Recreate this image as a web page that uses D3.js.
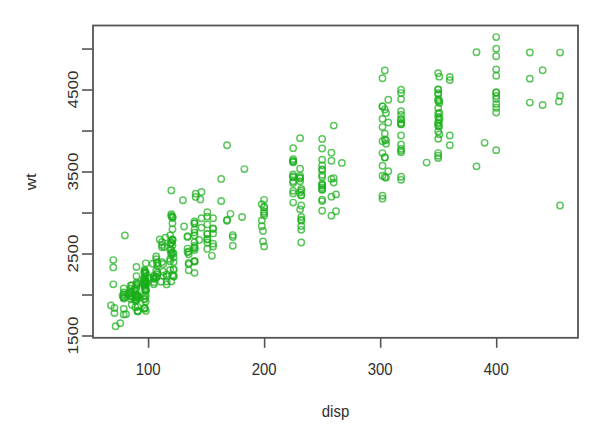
<!DOCTYPE html>
<html>
<head>
<meta charset="utf-8">
<script src="https://cdn.jsdelivr.net/npm/d3@7"></script>
<style>
  body { margin: 0; background: #fff; }
  text { font-family: "Liberation Sans", Arial, sans-serif; fill: #2e2e2e; }
</style>
</head>
<body>
<div id="plot"></div>
<script>
//DATA (disp, wt), one row per model year
let disp = [
  307,350,318,304,302,429,454,440,455,390,383,340,400,455,113,198,199,200,97,97,110,107,104,121,199,360,307,318,304,
  97,140,113,232,225,250,250,232,350,400,351,318,383,400,400,258,140,250,250,122,116,79,88,71,72,97,91,
  113,97.5,97,140,122,350,400,318,351,304,429,350,350,400,70,304,307,302,318,121,121,120,96,122,97,120,98,97,
  350,304,350,302,318,429,400,351,318,440,455,360,225,250,232,250,198,97,400,400,360,350,232,97,140,108,70,122,155,98,350,400,68,116,114,121,318,121,156,350,
  198,232,250,79,122,71,140,250,258,225,302,350,318,302,304,98,79,97,76,83,90,90,116,120,108,79,
  225,250,250,250,400,350,318,351,231,250,258,225,231,262,302,97,140,232,140,134,90,119,171,90,232,115,120,121,121,91,
  107,116,140,98,101,305,318,304,351,225,250,200,232,85,98,90,91,225,250,250,258,97,85,97,140,130,318,120,156,168,350,350,302,318,
  98,111,79,122,85,305,260,318,302,250,231,225,250,400,350,400,351,97,151,97,140,98,98,97,97,146,121,80,
  90,98,78,85,91,260,318,302,231,200,200,140,225,232,231,200,225,258,305,231,302,318,98,134,119,105,134,156,151,119,131,163,121,163,89,98,
  231,200,140,232,225,305,302,351,318,350,351,267,360,89,86,98,121,183,350,141,260,105,105,85,91,151,173,173,151,
  90,89,98,85,151,140,151,225,97,134,120,119,108,86,156,85,90,90,121,146,91,97,89,168,70,122,107,
  135,151,156,173,135,79,86,81,97,85,89,91,105,98,98,105,107,108,119,120,141,145,168,146,231,350,200,225,
  112,112,112,112,135,151,140,98,79,79,105,98,120,107,108,91,91,91,181,262,156,232,144,135,151,140,97,135,120,119
];
let wt = [
  3504,3693,3436,3433,3449,4341,4354,4312,4425,3850,3563,3609,3761,3086,2372,2833,2774,2587,2130,1835,2672,2430,2375,2234,2648,4615,4376,4382,4732,
  2130,2264,2228,2634,3439,3329,3302,3288,4209,4464,4154,4096,4955,4746,5140,2962,2408,3282,3139,2220,2123,2074,2065,1773,1613,1834,1955,
  2278,2126,2254,2408,2226,4274,4385,4135,4129,3672,4633,4502,4456,4422,2330,3892,4098,4294,4077,2933,2511,2979,2189,2395,2288,2506,2164,2100,
  4100,3672,3988,4042,3777,4952,4464,4363,4237,4735,4951,3821,3121,3278,2945,3021,2904,1950,4997,4906,4654,4499,2789,2279,2401,2379,2124,2310,2472,2265,4082,4278,1867,2158,2582,2868,3399,2660,2807,3664,
  3102,2901,3336,1950,2451,1836,2542,3781,3632,3613,4141,4699,4457,4638,4257,2219,1963,2300,1649,2003,2125,2108,2246,2489,2391,2000,
  3264,3459,3432,3158,4668,4440,4498,4657,3907,3897,3730,3785,3039,3221,3169,2171,2639,2914,2592,2702,2223,2545,2984,1937,3211,2694,2957,2945,2671,1795,
  2464,2220,2572,2255,2202,4215,4190,3962,4215,3233,3353,3012,3085,2035,2164,1937,1795,3651,3574,3645,3193,1825,1990,2155,2565,3150,3940,3270,2930,3820,4380,4055,3870,3755,
  2045,2155,1825,2300,1945,3880,4060,4140,4295,3520,3425,3630,3525,4220,4165,4325,4335,1940,2740,2265,2755,2051,2075,1985,2190,2815,2600,2720,
  1985,1800,1985,2070,1800,3365,3735,3570,3535,3155,2965,2720,3430,3210,3380,3070,3620,3410,3425,3445,3205,4080,2155,2560,2300,2230,2515,2745,2855,2405,2830,3140,2795,3410,1990,2135,
  3245,2990,2890,3265,3360,3840,3725,3955,3830,4360,4054,3605,3940,1925,1975,1915,2670,3530,3900,3190,3420,2200,2150,2020,2130,2670,2595,2700,2556,
  2144,1968,2120,2019,2678,2870,3003,3381,2188,2711,2542,2434,2265,2110,2800,2110,2085,2335,2950,3250,1850,2145,1845,2910,2420,2500,2290,
  2490,2635,2620,2725,2385,1755,1875,1760,2065,1975,2050,1985,2215,2045,2380,2190,2210,2350,2615,2635,3230,3160,2900,2930,3415,3725,3060,3465,
  2605,2640,2395,2575,2525,2735,2865,1980,2025,1970,2125,2125,2160,2205,2245,1965,1965,1995,2945,3015,2585,2835,2665,2370,2950,2790,2130,2295,2625,2720
];
let xTicks = [100, 200, 300, 400];
let yTicks = [1500, 2000, 2500, 3000, 3500, 4000, 4500, 5000];
let yLabels = [1500, 2500, 3500, 4500];

let w = 606;
let h = 436;
let plotLeft = 93, plotRight = 578, plotTop = 25.5, plotBottom = 337.8;

let points = disp.map(function(d, i) { return {disp: d, wt: wt[i]}; });

//SCALES (R style: data range padded by 4% each side)
let xExt = d3.extent(disp), yExt = d3.extent(wt);
let xPad = (xExt[1] - xExt[0]) * 0.04;
let yPad = (yExt[1] - yExt[0]) * 0.04;

let xScale = d3.scaleLinear()
    .domain([xExt[0] - xPad, xExt[1] + xPad])
    .range([plotLeft, plotRight]);

let yScale = d3.scaleLinear()
    .domain([yExt[0] - yPad, yExt[1] + yPad])
    .range([plotBottom, plotTop]);

let svg = d3.select("#plot").append("svg")
    .attr("width", w)
    .attr("height", h);

//POINTS
svg.append("g")
    .selectAll("circle")
    .data(points)
    .enter()
    .append("circle")
    .attr("cx", function(d) { return xScale(d.disp); })
    .attr("cy", function(d) { return yScale(d.wt); })
    .attr("r", 3.2)
    .attr("fill", "none")
    .attr("stroke", "#1aae1a")
    .attr("stroke-opacity", 0.72)
    .attr("stroke-width", 1.45);

//AXES
let xAxis = d3.axisBottom(xScale).tickValues(xTicks).tickSize(10).tickFormat("");
let yAxis = d3.axisLeft(yScale).tickValues(yTicks).tickSize(11).tickFormat("");

svg.append("g")
    .attr("transform", "translate(0," + plotBottom + ")")
    .call(xAxis);

svg.append("g")
    .attr("transform", "translate(" + plotLeft + ",0)")
    .call(yAxis);

svg.selectAll(".domain").remove();
svg.selectAll(".tick line").attr("stroke", "#555").attr("stroke-width", 1.6);

//tick labels drawn by hand, squeezed a little like the original screenshot
svg.append("g")
    .selectAll("text")
    .data(xTicks)
    .enter()
    .append("text")
    .attr("transform", function(d) { return "translate(" + xScale(d) + ",375) scale(0.88,1)"; })
    .attr("text-anchor", "middle")
    .attr("font-size", 17)
    .text(function(d) { return d; });

svg.append("g")
    .selectAll("text")
    .data(yLabels)
    .enter()
    .append("text")
    .attr("transform", function(d) { return "translate(78," + yScale(d) + ") rotate(-90) scale(1,0.88)"; })
    .attr("text-anchor", "middle")
    .attr("font-size", 17)
    .text(function(d) { return d; });

//BOX
svg.append("rect")
    .attr("x", plotLeft)
    .attr("y", plotTop)
    .attr("width", plotRight - plotLeft)
    .attr("height", plotBottom - plotTop)
    .attr("fill", "none")
    .attr("stroke", "#555")
    .attr("stroke-width", 1.8);

//AXIS TITLES
svg.append("text")
    .attr("transform", "translate(" + ((plotLeft + plotRight) / 2) + ",417) scale(0.88,1)")
    .attr("text-anchor", "middle")
    .attr("font-size", 17)
    .text("disp");

svg.append("text")
    .attr("transform", "translate(36," + ((plotTop + plotBottom) / 2) + ") rotate(-90) scale(1,0.88)")
    .attr("text-anchor", "middle")
    .attr("font-size", 17)
    .text("wt");
</script>
</body>
</html>
